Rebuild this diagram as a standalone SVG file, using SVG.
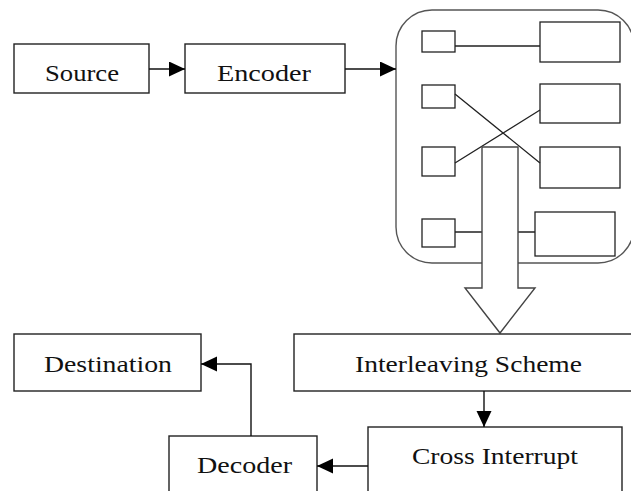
<svg xmlns="http://www.w3.org/2000/svg" width="631" height="491" viewBox="0 0 631 491">
<style>
.box{fill:#fff;stroke:#222;stroke-width:1.4}
.cell{fill:#fff;stroke:#222;stroke-width:1.3}
.ln{fill:none;stroke:#222;stroke-width:1.3}
.conn{fill:none;stroke:#111;stroke-width:1.4}
.lbl{font-family:"Liberation Serif","Times New Roman",serif;font-size:24px;fill:#111}
</style>
<defs>
<marker id="ah" markerUnits="userSpaceOnUse" markerWidth="17" markerHeight="16" refX="16" refY="7.5" orient="auto">
<path d="M0,0 L16,7.5 L0,15 z" fill="#000"/>
</marker>
</defs>
<rect width="631" height="491" fill="#fff"/>
<g id="source">
<rect class="box" x="14" y="44" width="135" height="49"/>
<text class="lbl" x="45" y="81" textLength="74" lengthAdjust="spacingAndGlyphs">Source</text>
</g>
<g id="encoder">
<rect class="box" x="185" y="44" width="160" height="49"/>
<text class="lbl" x="217" y="81" textLength="94" lengthAdjust="spacingAndGlyphs">Encoder</text>
</g>
<g id="interleaver">
<rect x="396" y="10" width="238" height="253" rx="36" ry="36" fill="#fff" stroke="#555" stroke-width="1.4"/>
<rect class="cell" x="422" y="31" width="33" height="21"/>
<rect class="cell" x="422" y="85" width="33" height="23"/>
<rect class="cell" x="422" y="147" width="33" height="29"/>
<rect class="cell" x="422" y="219" width="33" height="28"/>
<rect class="cell" x="540" y="22" width="80" height="40"/>
<rect class="cell" x="540" y="84" width="80" height="39"/>
<rect class="cell" x="540" y="147" width="80" height="41"/>
<rect class="cell" x="535" y="212" width="80" height="44"/>
<path class="ln" d="M455,46 H540 M455,94 L540,163 M455,163 L540,110 M455,232 H482 M518,232 H535"/>
<polygon points="482,147 518,147 518,288 535,288 500,333 465,288 482,288" fill="#fff" stroke="#444" stroke-width="1.4"/>
</g>
<g id="interleaving-scheme">
<rect class="box" x="294" y="334" width="345" height="57"/>
<text class="lbl" x="355" y="372" textLength="227" lengthAdjust="spacingAndGlyphs">Interleaving Scheme</text>
</g>
<g id="cross-interrupt">
<rect class="box" x="368" y="427" width="254" height="70"/>
<text class="lbl" x="412" y="464" textLength="166" lengthAdjust="spacingAndGlyphs">Cross Interrupt</text>
</g>
<g id="decoder">
<rect class="box" x="169" y="436" width="148" height="60"/>
<text class="lbl" x="197" y="473" textLength="95" lengthAdjust="spacingAndGlyphs">Decoder</text>
</g>
<g id="destination">
<rect class="box" x="14" y="334" width="187" height="57"/>
<text class="lbl" x="44" y="372" textLength="128" lengthAdjust="spacingAndGlyphs">Destination</text>
</g>
<g id="connectors">
<path class="conn" d="M149,69 H185" marker-end="url(#ah)"/>
<path class="conn" d="M345,69 H396" marker-end="url(#ah)"/>
<path class="conn" d="M484,391 V427" marker-end="url(#ah)"/>
<path class="conn" d="M368,466 H317" marker-end="url(#ah)"/>
<path class="conn" d="M251,436 V364 H201" marker-end="url(#ah)"/>
</g>
</svg>
